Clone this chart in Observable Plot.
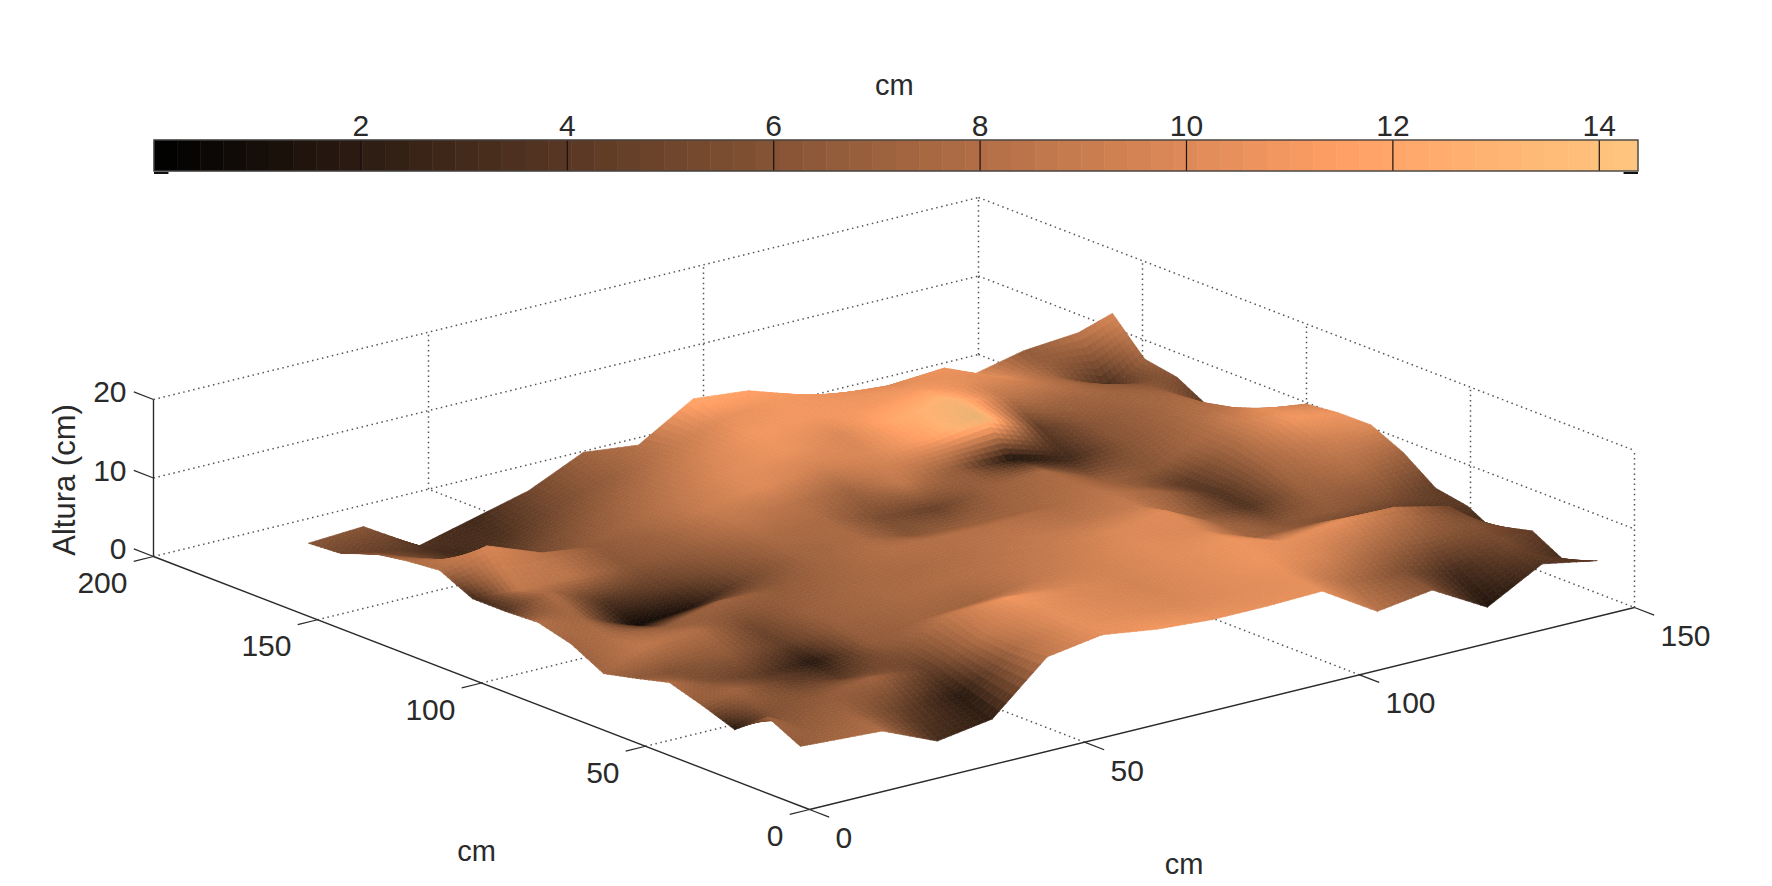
<!DOCTYPE html>
<html><head><meta charset="utf-8">
<script src="https://cdn.jsdelivr.net/npm/d3@7"></script>
<script src="https://cdn.jsdelivr.net/npm/@observablehq/plot@0.6"></script>
<style>html,body{margin:0;padding:0;background:#fff}svg{display:block}</style>
</head><body><div id="barBox"></div><div id="surfBox"></div>
<script>
// Sampled surface: rows run along y (near to far), columns along x.
const yGrid = [10,20,30,40,50,60,70,80,90,100,110,120,130,140,150,160];
const xNear = [4.3,9.2,19.2,29.2,39.2,49.2,59.2,69.2,79.2,89.2,99.2,109.2,119.2,129.2,139.2,149.2];
const xFar  = [4.3,14.3,24.3,34.3,44.3,54.3,64.3,74.3,84.3,94.3,104.3,114.3,124.3,134.3,144.3,150.5];
const heights = [
 [5.7,5.5,5.1,2.1,3.2,9.4,10.5,9.5,9.0,9.0,9.2,4.9,5.9,2.0,5.8,4.5],
 [7.8,6.0,5.5,4.5,4.5,9.0,10.5,9.5,9.0,9.0,9.5,7.0,6.5,4.5,6.5,2.8],
 [4.6,6.0,6.0,7.0,6.0,9.0,10.5,10.0,9.5,9.5,10.2,8.5,8.0,7.5,7.5,5.0],
 [6.1,7.0,6.5,5.0,6.5,10.0,10.3,9.5,9.5,9.8,10.8,8.8,9.8,9.7,8.1,2.7],
 [7.4,6.5,5.5,5.5,6.0,7.5,8.0,9.0,9.8,10.0,10.3,7.5,7.5,7.0,5.5,4.9],
 [6.3,6.0,6.5,6.0,7.0,8.0,9.0,9.5,10.0,10.2,11.0,7.5,6.0,6.0,6.0,5.6],
 [5.3,7.5,8.0,6.5,7.0,8.0,9.0,9.0,9.5,10.0,10.0,7.0,6.5,7.0,8.0,8.5],
 [7.5,7.0,6.7,8.3,8.0,8.5,9.5,9.5,9.5,10.0,10.0,8.5,6.5,8.5,10.0,10.4],
 [8.6,8.0,5.0,5.5,7.5,9.0,9.5,8.0,7.5,7.5,9.5,7.3,6.0,9.5,11.0,10.3],
 [8.4,9.5,6.5,6.5,8.0,9.5,10.0,8.5,8.0,8.8,9.5,6.5,6.0,9.5,10.5,9.8],
 [8.4,8.0,8.0,7.5,8.5,10.0,10.5,10.5,9.5,9.8,9.3,7.5,8.0,9.5,9.0,6.9],
 [10.4,12.0,9.4,8.5,8.5,10.0,11.0,11.5,11.5,11.8,13.0,10.0,8.5,9.0,8.0,4.6],
 [10.0,8.5,6.0,6.0,7.5,9.5,11.0,12.0,12.5,12.5,13.5,12.0,10.0,9.0,7.5,4.5],
 [9.3,7.0,5.0,5.0,7.0,9.0,11.0,12.5,13.0,12.5,13.0,12.5,10.5,8.5,7.0,6.7],
 [7.7,6.5,4.5,4.5,7.0,9.0,10.5,13.0,13.5,12.5,12.0,12.5,9.6,8.0,4.5,7.4],
 [7.4,7.8,3.6,5.4,7.2,10.4,9.6,13.8,13.1,10.8,9.2,9.0,8.0,9.6,10.2,11.6]
];
const shades = [
 [.45,.5,.55,.22,.15,.6,.72,.76,.74,.72,.72,.58,.42,.1,.25,.3],
 [.5,.45,.5,.3,.12,.55,.72,.7,.68,.7,.72,.55,.4,.2,.35,.2],
 [.12,.4,.45,.5,.3,.6,.72,.68,.66,.7,.75,.68,.55,.45,.4,.3],
 [.45,.5,.3,.3,.4,.62,.76,.68,.66,.7,.74,.72,.72,.6,.35,.12],
 [.55,.4,.3,.12,.45,.5,.5,.6,.65,.7,.68,.5,.42,.35,.25,.28],
 [.45,.4,.45,.3,.48,.52,.55,.58,.62,.68,.7,.5,.42,.45,.4,.3],
 [.5,.6,.55,.35,.48,.52,.53,.56,.6,.58,.62,.48,.25,.48,.55,.5],
 [.5,.55,.45,.5,.45,.5,.56,.56,.56,.53,.58,.5,.25,.52,.65,.7],
 [.55,.5,.05,.1,.35,.5,.53,.42,.48,.5,.55,.5,.28,.55,.76,.75],
 [.25,.55,.25,.3,.42,.53,.53,.38,.32,.48,.52,.48,.42,.55,.72,.65],
 [.2,.6,.58,.42,.48,.6,.58,.5,.6,.45,.08,.2,.42,.52,.6,.45],
 [.55,.68,.58,.45,.5,.63,.7,.65,.68,.8,1.05,.3,.42,.5,.55,.3],
 [.55,.6,.25,.42,.5,.6,.7,.74,.68,.85,.95,.58,.5,.5,.5,.25],
 [.42,.35,.2,.35,.45,.55,.66,.76,.76,.76,.78,.7,.62,.5,.42,.4],
 [.35,.3,.2,.25,.38,.48,.6,.72,.76,.74,.7,.75,.72,.5,.2,.5],
 [.42,.42,.25,.2,.35,.5,.55,.85,.8,.78,.7,.72,.72,.45,.6,.68]
];
const xTicks = [0,50,100,150];
const yTicks = [0,50,100,150,200];
const zTicks = [0,10,20];
const barTicks = [2,4,6,8,10,12,14];
const barDomain = [0,14.38];
const FONT = "'Liberation Sans', Arial, sans-serif";
const INK = "#2a2a2a";

// Orthographic view of the box
const project = (x,y,z) => [809 + x*825/150 - y*656/200, 809 - x*202/150 - y*253/200 - z*157/20];
const seg = (a,b) => { const p=project(...a), q=project(...b); return {x1:p[0],y1:p[1],x2:q[0],y2:q[1]}; };
const pt = (x,y,z,label) => { const p=project(x,y,z); return {px:p[0],py:p[1],label}; };

const grid = [];
for (const x of [50,100]) { grid.push(seg([x,0,0],[x,200,0]), seg([x,200,0],[x,200,20])); }
for (const y of [50,100,150]) { grid.push(seg([0,y,0],[150,y,0]), seg([150,y,0],[150,y,20])); }
for (const z of zTicks) { grid.push(seg([0,200,z],[150,200,z]), seg([150,200,z],[150,0,z])); }
grid.push(seg([150,200,0],[150,200,20]), seg([150,0,0],[150,0,20]));
const axes = [seg([0,0,0],[150,0,0]), seg([0,0,0],[0,200,0]), seg([0,200,0],[0,200,20])];
const ticks = [
  ...xTicks.map(x => seg([x,0,0],[x,-6,0])),
  ...yTicks.map(y => seg([0,y,0],[-3.6,y,0])),
  ...zTicks.map(z => seg([0,200,z],[0,206,z]))
];

// Surface facets, back to front, with the vertex shades blended across each facet
const SUB = 8;
const facets = [];
const vertex = (fi,fj) => {
  const i=Math.min(Math.floor(fi),14), j=Math.min(Math.floor(fj),14), u=fi-i, v=fj-j;
  const mix=(m)=>(m[j][i]*(1-u)+m[j][i+1]*u)*(1-v)+(m[j+1][i]*(1-u)+m[j+1][i+1]*u)*v;
  const t=fj/15, xa=xNear[i]*(1-u)+xNear[i+1]*u, xb=xFar[i]*(1-u)+xFar[i+1]*u;
  const x=xa*(1-t)+xb*t, y=yGrid[j]*(1-v)+yGrid[j+1]*v;
  return {p:project(x,y,mix(heights)), s:mix(shades)};
};
let id=0;
for (let a=15*SUB-1;a>=0;a--) for (let b=15*SUB-1;b>=0;b--) {
  const c=[[b,a],[b+1,a],[b+1,a+1],[b,a+1]].map(([u,v])=>vertex(u/SUB,v/SUB));
  const s=d3.mean(c,d=>d.s);
  id++;
  for (const d of [...c,c[0]]) facets.push({px:d.p[0],py:d.p[1],s,id});
}

const barStep = (barDomain[1]-barDomain[0])/64;
const barPlot = Plot.plot({
  width:1772,height:190,margin:0,
  style:{fontFamily:FONT,background:"#fff"},
  x:{domain:barDomain,range:[154,1638],axis:null},
  y:{domain:[0,1],range:[171,140],axis:null},
  color:{type:"linear",domain:[0,.8,1].map(f=>barDomain[0]+f*(barDomain[1]-barDomain[0])),range:["#000000","#ff9f65","#ffc77f"]},
  marks:[
    Plot.rect(d3.range(64),{
      x1:i=>barDomain[0]+i*barStep,
      x2:i=>barDomain[0]+(i+1)*barStep,
      y1:0,y2:1,
      fill:i=>barDomain[0]+(i+.5)*barStep,
      stroke:i=>barDomain[0]+(i+.5)*barStep,strokeWidth:.5}),
    Plot.ruleX(barTicks,{y1:0,y2:1,stroke:"#1a1010",strokeWidth:1.2}),
    Plot.rect([0],{x1:barDomain[0],x2:barDomain[1],y1:0,y2:1,fill:"none",stroke:"#444",strokeWidth:1.4}),
    Plot.ruleY([0],{x1:barDomain[0],x2:barDomain[0]+.14,dy:1.5,stroke:"#111",strokeWidth:2}),
    Plot.ruleY([0],{x1:barDomain[1]-.14,x2:barDomain[1],dy:1.5,stroke:"#111",strokeWidth:2}),
    Plot.text(barTicks,{x:d=>d,y:1,dy:-14,text:d=>String(d),fontSize:30,fill:INK}),
    Plot.text(["cm"],{x:7.17,y:1,dy:-55,text:d=>d,fontSize:29,fill:INK})
  ]
});
document.getElementById("barBox").append(barPlot);

const surfPlot = Plot.plot({
  width:1772,height:696,margin:0,
  style:{fontFamily:FONT,background:"#fff"},
  x:{domain:[0,1772],range:[0,1772],axis:null},
  y:{domain:[190,886],range:[0,696],axis:null},
  color:{type:"linear",domain:[0,.8,.9,1.1],range:["#000000","#ff9f65","#ffb273","#deb270"]},
  marks:[
    Plot.link(grid,{x1:"x1",y1:"y1",x2:"x2",y2:"y2",stroke:"#555",strokeWidth:1.5,strokeDasharray:"1.5 3.6"}),
    Plot.link(axes,{x1:"x1",y1:"y1",x2:"x2",y2:"y2",stroke:INK,strokeWidth:1.4}),
    Plot.link(ticks,{x1:"x1",y1:"y1",x2:"x2",y2:"y2",stroke:INK,strokeWidth:1.2}),
    Plot.line(facets,{x:"px",y:"py",z:"id",fill:"s",stroke:"s",strokeWidth:.7,curve:"linear"}),
    Plot.text(xTicks.map(v=>pt(v,0,0,v)),{x:"px",y:"py",text:"label",textAnchor:"start",dx:26,dy:29,fontSize:30,fill:INK}),
    Plot.text(yTicks.map(v=>pt(0,v,0,v)),{x:"px",y:"py",text:"label",textAnchor:"end",dx:-26,dy:27,fontSize:30,fill:INK}),
    Plot.text(zTicks.map(v=>pt(0,200,v,v)),{x:"px",y:"py",text:"label",textAnchor:"end",dx:-27,dy:-7,fontSize:30,fill:INK}),
    Plot.text([pt(0,200,10,"Altura (cm)")],{x:"px",y:"py",text:"label",rotate:-90,dx:-88,dy:2,fontSize:31,fill:INK}),
    Plot.text([pt(0,100,0,"cm")],{x:"px",y:"py",text:"label",dx:-5,dy:169,fontSize:29,fill:INK}),
    Plot.text([pt(75,0,0,"cm")],{x:"px",y:"py",text:"label",dx:-38,dy:156,fontSize:29,fill:INK})
  ]
});
document.getElementById("surfBox").append(surfPlot);
</script></body></html>
